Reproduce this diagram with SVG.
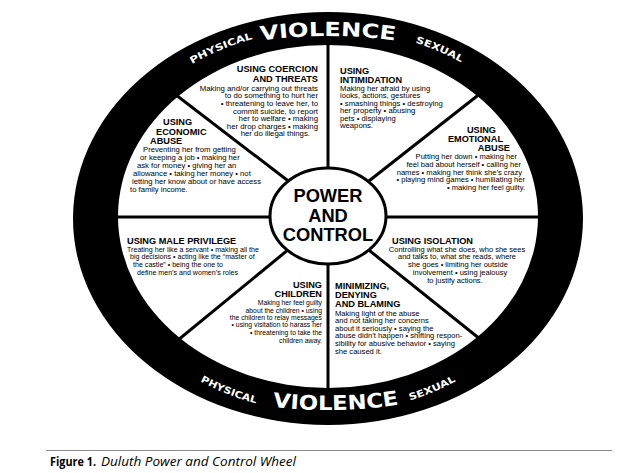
<svg xmlns="http://www.w3.org/2000/svg" width="624" height="473" viewBox="0 0 624 473">
<style>
text{font-family:"Liberation Sans",Arial,sans-serif;fill:#000}
.t{font-weight:bold;font-size:9.2px}
.e{text-anchor:end}
.m{text-anchor:middle}
.ring{font-family:"DejaVu Sans",sans-serif;font-weight:bold;fill:#fff}
.spoke{stroke:#000;stroke-width:3;fill:none}
.hubt{font-weight:bold;font-size:18.3px;text-anchor:middle}
.cap{font-family:"Open Sans",sans-serif;font-size:12.5px}
</style>
<defs>
<path id="pTopBig" d="M28,217 A300,181 0 0 1 628,217"/>
<path id="pBotBig" d="M28,217 A300,193 0 0 0 628,217"/>
<path id="pTopSmall" d="M94,217 A234,188 0 0 1 562,217"/>
<path id="pBotSmall" d="M94,217 A234,196 0 0 0 562,217"/>
</defs>
<rect width="624" height="473" fill="#fff"/>
<g id="connectors">
<line class="spoke" x1="328" y1="40" x2="328" y2="395"/>
<line class="spoke" x1="110" y1="217" x2="546" y2="217"/>
<line class="spoke" x1="150" y1="75" x2="300" y2="190"/>
<line class="spoke" x1="500" y1="78" x2="360" y2="188"/>
<line class="spoke" x1="300" y1="240" x2="150" y2="363"/>
<line class="spoke" x1="360" y1="243" x2="500" y2="355"/>
</g>
<g id="ring">
<path fill="#000" fill-rule="evenodd" d="M73,218.5 a255,206.5 0 1 0 510,0 a255,206.5 0 1 0 -510,0 Z M118,216.5 a210,171.5 0 1 0 420,0 a210,171.5 0 1 0 -420,0 Z"/>
<text class="ring" font-size="19.5"><textPath href="#pTopBig" startOffset="50%" text-anchor="middle" textLength="135" lengthAdjust="spacingAndGlyphs">VIOLENCE</textPath></text>
<text class="ring" font-size="20"><textPath href="#pBotBig" startOffset="51%" text-anchor="middle" textLength="127" lengthAdjust="spacingAndGlyphs">VIOLENCE</textPath></text>
<text class="ring" font-size="9.5"><textPath href="#pTopSmall" startOffset="33.6%" text-anchor="middle" textLength="66" lengthAdjust="spacingAndGlyphs">PHYSICAL</textPath></text>
<text class="ring" font-size="9.5"><textPath href="#pTopSmall" startOffset="67.1%" text-anchor="middle" textLength="50" lengthAdjust="spacingAndGlyphs">SEXUAL</textPath></text>
<text class="ring" font-size="9.5"><textPath href="#pBotSmall" startOffset="34.8%" text-anchor="middle" textLength="60" lengthAdjust="spacingAndGlyphs">PHYSICAL</textPath></text>
<text class="ring" font-size="9.5"><textPath href="#pBotSmall" startOffset="66%" text-anchor="middle" textLength="50" lengthAdjust="spacingAndGlyphs">SEXUAL</textPath></text>
</g>
<g id="hub">
<ellipse cx="328" cy="216" rx="58" ry="48" fill="#fff" stroke="#000" stroke-width="3"/>
<text class="hubt" x="328" y="201.7">POWER</text>
<text class="hubt" x="328" y="221.7">AND</text>
<text class="hubt" x="328" y="240.7">CONTROL</text>
</g>
<g id="coercion" font-size="7.8">
<text class="t e" x="318" y="72.3">USING COERCION</text>
<text class="t e" x="318" y="81.7">AND THREATS</text>
<text class="e" x="318" y="90.5">Making and/or carrying out threats</text>
<text class="e" x="318" y="98">to do something to hurt her</text>
<text class="e" x="318" y="106">• threatening to leave her, to</text>
<text class="e" x="318" y="113.5">commit suicide, to report</text>
<text class="e" x="318" y="121">her to welfare • making</text>
<text class="e" x="318" y="128.5">her drop charges • making</text>
<text class="e" x="310" y="136">her do illegal things.</text>
</g>
<g id="intimidation" font-size="7.7">
<text class="t" x="340" y="73.5" font-size="9.6">USING</text>
<text class="t" x="340" y="82.8" font-size="9.6">INTIMIDATION</text>
<text x="340" y="90.8">Making her afraid by using</text>
<text x="340" y="98.3">looks, actions, gestures</text>
<text x="340" y="105.8">• smashing things • destroying</text>
<text x="340" y="113.3">her property • abusing</text>
<text x="340" y="120.8">pets • displaying</text>
<text x="340" y="128.3">weapons.</text>
</g>
<g id="economic" font-size="7.7">
<text class="t" x="163" y="125">USING</text>
<text class="t" x="156" y="134.5">ECONOMIC</text>
<text class="t" x="150" y="144">ABUSE</text>
<text x="143" y="152">Preventing her from getting</text>
<text x="140" y="160">or keeping a job • making her</text>
<text x="137" y="168">ask for money • giving her an</text>
<text x="133" y="176">allowance • taking her money • not</text>
<text x="132" y="184">letting her know about or have access</text>
<text x="130" y="192">to family income.</text>
</g>
<g id="emotional" font-size="7.6">
<text class="t e" x="496" y="132.5">USING</text>
<text class="t e" x="503" y="141.7">EMOTIONAL</text>
<text class="t e" x="510" y="150.9">ABUSE</text>
<text class="e" x="517" y="159.3">Putting her down • making her</text>
<text class="e" x="521" y="167">feel bad about herself • calling her</text>
<text class="e" x="522" y="174.7">names • making her think she’s crazy</text>
<text class="e" x="525" y="182.3">• playing mind games • humiliating her</text>
<text class="e" x="525" y="190">• making her feel guilty.</text>
</g>
<g id="male-privilege" font-size="7.1">
<text class="t" x="127" y="243.8" font-size="9.5">USING MALE PRIVILEGE</text>
<text x="127" y="251.6">Treating her like a servant • making all the</text>
<text x="130" y="259.3">big decisions • acting like the “master of</text>
<text x="133" y="267">the castle”  • being the one to</text>
<text x="137" y="274.7">define men’s and women’s roles</text>
</g>
<g id="isolation" font-size="7.5">
<text class="t" x="392" y="243.8" font-size="9.5">USING ISOLATION</text>
<text class="m" x="457" y="251.6">Controlling what she does, who she sees</text>
<text class="m" x="457" y="259.4">and talks to, what she reads, where</text>
<text class="m" x="458" y="267.2">she goes • limiting her outside</text>
<text class="m" x="460" y="275">involvement • using jealousy</text>
<text class="m" x="455" y="282.8">to justify actions.</text>
</g>
<g id="children" font-size="6.8">
<text class="t e" x="322" y="287.5">USING</text>
<text class="t e" x="322" y="296.7">CHILDREN</text>
<text class="e" x="322" y="305">Making her feel guilty</text>
<text class="e" x="322" y="312.7">about the children • using</text>
<text class="e" x="322" y="320">the children to relay messages</text>
<text class="e" x="322" y="327.3">• using visitation to harass her</text>
<text class="e" x="322" y="335">• threatening to take the</text>
<text class="e" x="322" y="342.7">children away.</text>
</g>
<g id="minimizing" font-size="7.6">
<text class="t" x="335" y="288.5" font-size="9.8">MINIMIZING,</text>
<text class="t" x="335" y="297.9" font-size="9.8">DENYING</text>
<text class="t" x="335" y="307.3" font-size="9.8">AND BLAMING</text>
<text x="335" y="315.5">Making light of the abuse</text>
<text x="335" y="323">and not taking her concerns</text>
<text x="335" y="330.7">about it seriously • saying the</text>
<text x="335" y="338.3">abuse didn’t happen • shifting respon-</text>
<text x="335" y="346">sibility for abusive behavior • saying</text>
<text x="335" y="354">she caused it.</text>
</g>
<g id="caption">
<line x1="46" y1="450.5" x2="612" y2="450.5" stroke="#8a8a8a" stroke-width="1.2"/>
<text class="cap" x="50" y="466" font-weight="bold" textLength="46" lengthAdjust="spacingAndGlyphs">Figure 1.</text>
<text class="cap" x="101" y="466" font-style="italic" textLength="195" lengthAdjust="spacingAndGlyphs">Duluth Power and Control Wheel</text>
</g>
</svg>
